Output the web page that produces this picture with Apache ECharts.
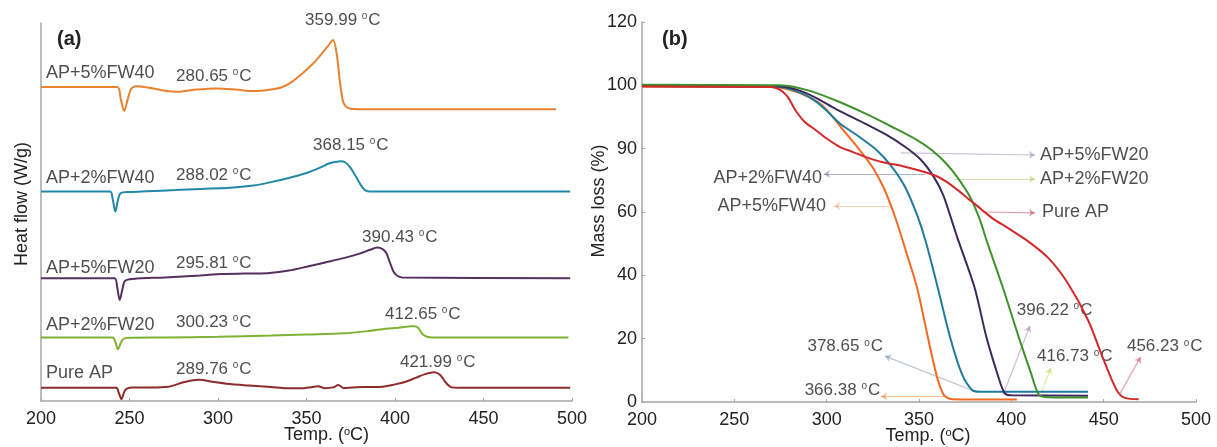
<!DOCTYPE html>
<html>
<head>
<meta charset="utf-8">
<title>DSC / TGA of AP samples</title>
<script src="https://cdn.jsdelivr.net/npm/echarts@6/dist/echarts.min.js"></script>
<style>
html, body { margin: 0; padding: 0; background: #fff; }
#chart { width: 1217px; height: 447px; }
</style>
</head>
<body>
<div id="chart"></div>
<script>
// ---- (a) DSC: temperature (°C) vs heat flow (W/g, curves stacked with offsets)
const dscT_5FW40 = [200, 243, 245, 247, 249, 251, 254, 262, 270, 277, 288, 299, 310, 320, 330, 336, 342, 348, 354, 359, 362, 365, 367, 369, 370.5, 372, 375, 380, 491]
const dscV_5FW40 = [8.31, 8.31, 8.00, 7.67, 7.98, 8.26, 8.33, 8.28, 8.21, 8.18, 8.24, 8.27, 8.24, 8.20, 8.24, 8.30, 8.45, 8.68, 8.94, 9.21, 9.38, 9.55, 9.20, 8.40, 7.95, 7.80, 7.73, 7.72, 7.72]
const dscT_2FW40 = [200, 239, 240.5, 242, 243.5, 245, 250, 260, 276, 290, 307, 320, 328, 340, 350, 357, 363, 366, 369, 372, 375, 378, 381, 383, 386, 499]
const dscV_2FW40 = [5.54, 5.54, 5.34, 5.01, 5.32, 5.50, 5.53, 5.55, 5.58, 5.61, 5.64, 5.70, 5.77, 5.90, 6.03, 6.16, 6.29, 6.32, 6.34, 6.31, 6.16, 5.93, 5.69, 5.58, 5.54, 5.54]
const dscT_5FW20 = [200, 241.5, 243, 244.5, 246, 247.5, 252, 270, 290, 302, 315, 328, 340, 350, 360, 371, 380, 386, 390, 393, 395, 397, 399, 401, 404, 499]
const dscV_5FW20 = [3.25, 3.25, 3.02, 2.67, 2.96, 3.18, 3.23, 3.27, 3.32, 3.36, 3.37, 3.38, 3.45, 3.55, 3.66, 3.78, 3.90, 4.00, 4.06, 4.02, 3.92, 3.68, 3.44, 3.32, 3.27, 3.25]
const dscT_2FW20 = [200, 240.5, 242, 243.5, 245, 246.5, 250, 270, 300, 330, 350, 371, 385, 393, 400, 405, 409, 411, 413, 414.6, 416, 418, 421, 498]
const dscV_2FW20 = [1.68, 1.68, 1.56, 1.37, 1.53, 1.64, 1.67, 1.68, 1.70, 1.73, 1.76, 1.79, 1.85, 1.90, 1.93, 1.96, 1.98, 1.98, 1.94, 1.83, 1.75, 1.70, 1.68, 1.68]
const dscT_pure = [200, 242.5, 244, 245.5, 247, 248.5, 252, 262, 272, 281, 289, 298, 308, 317.5, 330, 339, 348, 352, 356.5, 360.5, 365, 368, 371, 376, 385, 393, 400, 406, 412, 417, 422, 425.5, 429, 432, 436, 499]
const dscV_pure = [0.35, 0.35, 0.21, 0.05, 0.24, 0.33, 0.36, 0.36, 0.38, 0.50, 0.56, 0.50, 0.44, 0.41, 0.37, 0.34, 0.34, 0.36, 0.39, 0.34, 0.36, 0.42, 0.34, 0.36, 0.37, 0.38, 0.44, 0.51, 0.62, 0.71, 0.76, 0.69, 0.47, 0.36, 0.35, 0.35]

// ---- (b) TGA: temperature (°C) vs mass loss (%)
const tgaT_5FW40 = [200, 270, 280, 290, 298.5, 309.5, 318, 325, 331, 337, 343, 349, 354.6, 359.7, 363.4, 365.7, 368, 403]
const tgaV_5FW40 = [99.6, 99.5, 98.6, 96.4, 93.2, 85.5, 79.5, 74.0, 67.5, 58.5, 47.5, 36.0, 21.0, 8.0, 2.2, 1.2, 0.9, 0.8]
const tgaT_2FW40 = [200, 272, 282, 292, 300, 307, 317, 327, 335, 342.4, 349, 353.5, 360, 366.8, 373, 378.7, 383, 441.5]
const tgaV_2FW40 = [99.8, 99.6, 98.5, 95.8, 92.0, 88.0, 84.0, 79.6, 74.5, 68.0, 59.0, 51.0, 36.5, 20.5, 9.2, 3.8, 3.25, 3.2]
const tgaT_5FW20 = [200, 275, 285, 295, 305, 320.5, 332, 342.4, 351, 358, 363, 366.8, 371, 380, 386.5, 393, 396.4, 400, 441.5]
const tgaV_5FW20 = [99.8, 99.6, 98.4, 95.8, 92.5, 88.0, 84.5, 80.6, 76.5, 71.1, 65.5, 59.0, 51.5, 36.3, 20.5, 7.9, 2.8, 2.1, 2.0]
const tgaT_2FW20 = [200, 275, 290, 305, 320.5, 335, 349, 357, 364.6, 371, 377.6, 383, 386.5, 395.3, 404, 410.6, 415, 420, 441.5]
const tgaV_2FW20 = [100.2, 100.0, 98.4, 95.2, 91.2, 87.0, 82.7, 79.5, 75.4, 70.8, 64.8, 57.5, 51.2, 36.3, 20.5, 9.2, 2.2, 1.5, 1.4]
const tgaT_pure = [200, 270, 275, 279, 283, 288, 294, 300, 307, 314, 320.5, 330, 342.4, 358, 365, 371, 376, 382, 386.5, 391, 398, 408.5, 420, 430.6, 441.5, 450, 457, 461.5, 469]
const tgaV_pure = [99.6, 99.5, 98.5, 96.3, 92.2, 88.5, 85.9, 83.2, 80.6, 79.0, 77.5, 75.8, 74.3, 71.7, 69.5, 66.9, 64.5, 61.7, 59.5, 57.5, 55.0, 51.0, 45.5, 37.5, 25.9, 13.3, 3.8, 1.3, 0.9]

// axis ticks
const xTicks = [200, 250, 300, 350, 400, 450, 500]
const massTicks = [0, 20, 40, 60, 80, 100, 120]
const massTickLabels = ['0', '20', '40', '60', '90', '100', '120']   // as printed in the figure

// text labels in (a): [text, temp, heat flow, isTemp]
const dscLabels = [
  ['AP+5%FW40', 202.8, 8.68, false], ['280.65', 276.3, 8.60, true], ['359.99', 349.2, 10.08, true],
  ['AP+2%FW40', 202.8, 5.90, false], ['288.02', 276.3, 5.98, true], ['368.15', 353.7, 6.77, true],
  ['AP+5%FW20', 202.8, 3.52, false], ['295.81', 276.3, 3.65, true], ['390.43', 381.4, 4.34, true],
  ['AP+2%FW20', 202.8, 2.01, false], ['300.23', 276.3, 2.09, true], ['412.65', 394.4, 2.30, true],
  ['Pure AP', 202.8, 0.74, false], ['289.76', 276.3, 0.85, true], ['421.99', 402.8, 1.03, true]
]

// callouts in (b): [text, isTemp, textT, textV, side, fromT, fromV, toT, toV, colour]
const tgaCallouts = [
  ['AP+5%FW20', false, 415.5, 78.0, 'right', 340.2, 78.7, 412.8, 78.0, '#9a7fae'],
  ['AP+2%FW40', false, 297.5, 70.7, 'left', 353.5, 72.0, 298.5, 72.0, '#5e6c98'],
  ['AP+2%FW20', false, 415.5, 70.4, 'right', 369.0, 70.4, 412.8, 70.4, '#a9c85c'],
  ['AP+5%FW40', false, 299.6, 61.9, 'left', 333.7, 61.9, 304.0, 61.9, '#f0a068'],
  ['Pure AP', false, 416.6, 60.0, 'right', 384.0, 60.0, 412.8, 59.7, '#b84858'],
  ['396.22', true, 403.0, 29.0, 'right', 395.5, 2.2, 410.0, 24.0, '#a878b0'],
  ['378.65', true, 330.5, 17.5, 'left', 380.8, 3.25, 331.6, 14.5, '#7a8aa2'],
  ['416.73', true, 413.9, 14.3, 'right', 416.0, 2.8, 421.4, 10.7, '#c4d448'],
  ['456.23', true, 462.6, 17.5, 'right', 459.0, 2.8, 470.0, 14.2, '#c84862'],
  ['366.38', true, 329.0, 3.8, 'left', 364.6, 1.7, 329.4, 1.7, '#f07a2a']
]

const dscColors = ['#e8822e', '#2389a8', '#55305f', '#7db232', '#8e2b2b']
const tgaColors = ['#f26a22', '#1f7c9c', '#3b2a5a', '#3f922c', '#d22a2a']

const zip = (xs, ys) => xs.map((x, i) => [x, ys[i]])
const tempText = t => `{n|${t} }{o|o}{n|C}`
const textColor = '#222222'
const richStyle = {
  n: { fontSize: 17, color: textColor, fontFamily: 'Liberation Sans' },
  o: { fontSize: 10, color: textColor, fontFamily: 'Liberation Sans', verticalAlign: 'top', padding: [0, 1, 0, 0] }
}

const chart = echarts.init(document.getElementById('chart'), null, { renderer: 'canvas' })

const dscSets = [[dscT_5FW40, dscV_5FW40], [dscT_2FW40, dscV_2FW40], [dscT_5FW20, dscV_5FW20], [dscT_2FW20, dscV_2FW20], [dscT_pure, dscV_pure]]
const tgaSets = [[tgaT_5FW40, tgaV_5FW40], [tgaT_2FW40, tgaV_2FW40], [tgaT_5FW20, tgaV_5FW20], [tgaT_2FW20, tgaV_2FW20], [tgaT_pure, tgaV_pure]]

const series = []
dscSets.forEach(([t, v], i) => series.push({
  type: 'line', xAxisIndex: 0, yAxisIndex: 0, data: zip(t, v),
  showSymbol: false, smooth: 0.3,
  lineStyle: { color: dscColors[i], width: 2 }, z: 3
}))
tgaSets.forEach(([t, v], i) => series.push({
  type: 'line', xAxisIndex: 1, yAxisIndex: 1, data: zip(t, v),
  showSymbol: false, smooth: 0.3,
  lineStyle: { color: tgaColors[i], width: 2 }, z: 3
}))

// text of panel (a)
series.push({
  type: 'scatter', xAxisIndex: 0, yAxisIndex: 0, symbolSize: 0, clip: false, silent: true,
  data: dscLabels.map(d => ({
    value: [d[1], d[2]],
    label: { formatter: d[3] ? tempText(d[0]) : d[0] }
  })),
  label: {
    show: true, position: 'right', distance: 0,
    fontSize: 18, color: textColor, fontFamily: 'Liberation Sans', rich: richStyle
  }
})

// arrows + text of panel (b)
series.push({
  type: 'lines', coordinateSystem: 'cartesian2d', xAxisIndex: 1, yAxisIndex: 1,
  symbol: ['none', 'arrow'], symbolSize: 6, silent: true,
  data: tgaCallouts.map(c => ({ coords: [[c[5], c[6]], [c[7], c[8]]], lineStyle: { color: c[9], width: 1.2 } }))
})
series.push({
  type: 'scatter', xAxisIndex: 1, yAxisIndex: 1, symbolSize: 0, clip: false, silent: true,
  data: tgaCallouts.map(c => ({
    value: [c[2], c[3]],
    label: { position: c[4], formatter: c[1] ? tempText(c[0]) : c[0] }
  })),
  label: {
    show: true, distance: 0,
    fontSize: 18, color: textColor, fontFamily: 'Liberation Sans', rich: richStyle
  }
})

const axisGray = '#a6a6a6'
const xAxisBase = {
  type: 'value', min: 200, max: 500, interval: 50,
  name: 'Temp. ({s|o}C)', nameLocation: 'middle', nameGap: 25, nameMoveOverlap: false,
  nameTextStyle: {
    fontSize: 18, color: textColor, fontFamily: 'Liberation Sans',
    rich: { s: { fontSize: 11, color: textColor, verticalAlign: 'top' } }
  },
  axisLine: { lineStyle: { color: axisGray, width: 1.5 } },
  axisTick: { inside: true, length: 3, lineStyle: { color: axisGray } },
  axisLabel: { fontSize: 18, color: textColor, fontFamily: 'Liberation Sans', margin: 9 },
  splitLine: { show: false }
}

chart.setOption({
  backgroundColor: '#ffffff',
  animation: false,
  title: [
    { text: '(a)', left: 52, top: 24, textStyle: { fontSize: 20, fontWeight: 'bold', color: '#222', fontFamily: 'Liberation Sans' } },
    { text: '(b)', left: 657, top: 24, textStyle: { fontSize: 20, fontWeight: 'bold', color: '#222', fontFamily: 'Liberation Sans' } }
  ],
  grid: [
    { left: 41, top: 23, width: 531, height: 378, outerBoundsMode: 'none' },
    { left: 642, top: 22, width: 554, height: 380, outerBoundsMode: 'none' }
  ],
  xAxis: [
    Object.assign({}, xAxisBase, { gridIndex: 0, nameTextStyle: Object.assign({}, xAxisBase.nameTextStyle, { padding: [0, 0, 0, 40] }) }),
    Object.assign({}, xAxisBase, { gridIndex: 1, nameTextStyle: Object.assign({}, xAxisBase.nameTextStyle, { padding: [0, 0, 0, 18] }) })
  ],
  yAxis: [
    {
      type: 'value', gridIndex: 0, min: 0, max: 10,
      name: 'Heat flow (W/g)', nameLocation: 'middle', nameGap: 10,
      nameTextStyle: { fontSize: 18, color: textColor, fontFamily: 'Liberation Sans', padding: [0, 0, 0, 16] },
      axisLine: { show: true, lineStyle: { color: axisGray, width: 1.5 } },
      axisTick: { show: false }, axisLabel: { show: false }, splitLine: { show: false }
    },
    {
      type: 'value', gridIndex: 1, min: 0, max: 120, interval: 20,
      name: 'Mass loss (%)', nameLocation: 'middle', nameGap: 34, nameMoveOverlap: false,
      nameTextStyle: { fontSize: 18, color: textColor, fontFamily: 'Liberation Sans', padding: [0, 0, 0, 22] },
      axisLine: { show: true, lineStyle: { color: axisGray, width: 1.5 } },
      axisTick: { show: true, inside: true, length: 3, lineStyle: { color: axisGray } },
      axisLabel: {
        fontSize: 18, color: textColor, fontFamily: 'Liberation Sans', margin: 5,
        formatter: v => massTickLabels[massTicks.indexOf(v)]
      },
      splitLine: { show: false }
    }
  ],
  series
})
</script>
</body>
</html>
